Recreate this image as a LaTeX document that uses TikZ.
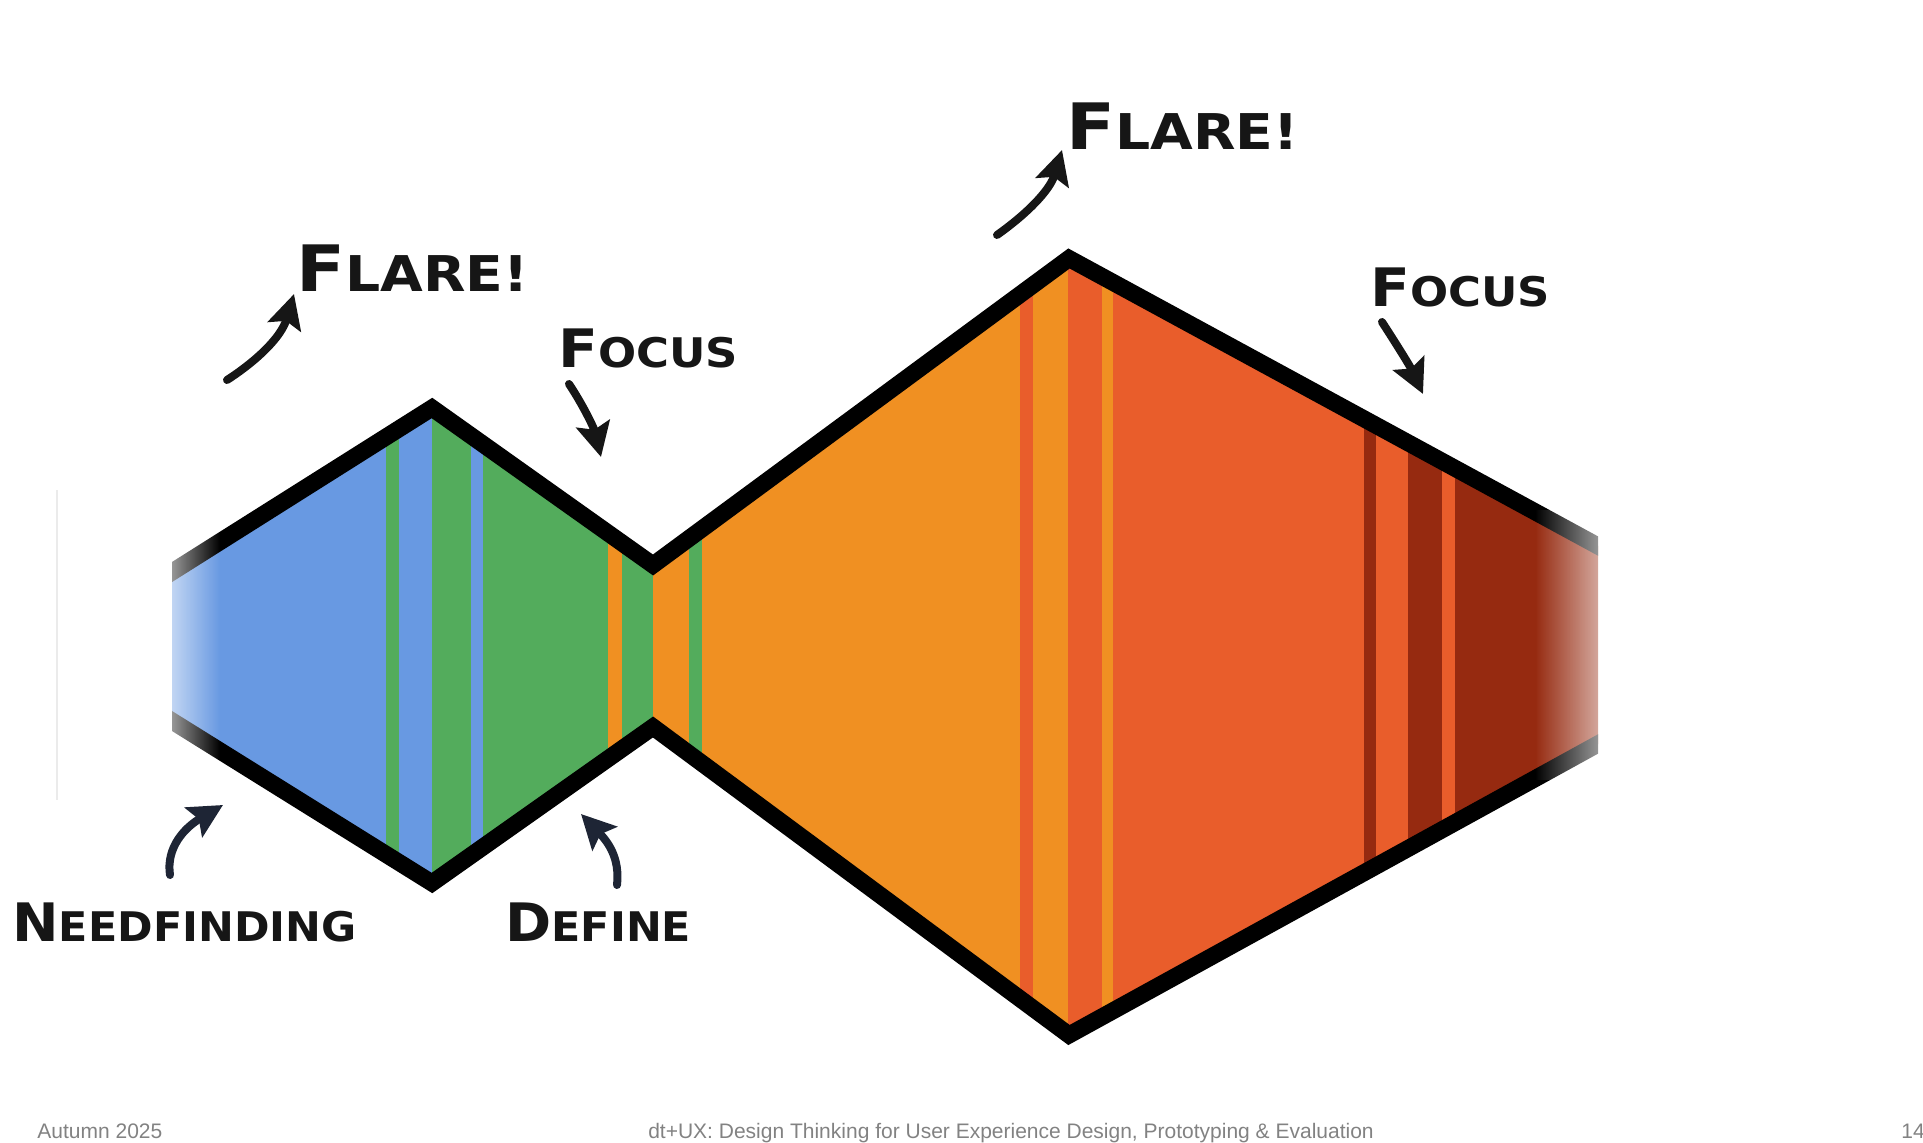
\documentclass[tikz,border=0pt]{standalone}
\usepackage{graphicx}
\usepackage{fontspec}
\usepackage{xcolor}
\usepackage{tikz}
\usetikzlibrary{arrows.meta,fadings}

\newfontfamily\markerfont{DejaVu Sans}
\newfontfamily\footerfont{Liberation Sans}

\definecolor{phaseblue}{RGB}{104,153,226}
\definecolor{phasegreen}{RGB}{83,172,92}
\definecolor{phaseorange}{RGB}{240,144,34}
\definecolor{phasered}{RGB}{233,93,43}
\definecolor{phasedark}{RGB}{150,42,16}
\definecolor{inkblack}{RGB}{22,22,22}
\definecolor{navyink}{RGB}{30,37,53}
\definecolor{footgray}{RGB}{130,130,130}

\tikzfading[name=fadeoutright, left color=transparent!0, right color=transparent!100]
\tikzfading[name=fadeoutleft, left color=transparent!100, right color=transparent!0]

\newcommand{\sketchword}[3][1.12]{\scalebox{#1}[1]{#2\scalebox{0.77}{#3}}}

\begin{document}
\begin{tikzpicture}[x=0.5pt,y=0.5pt,yscale=-1,xscale=1,
    outline/.style={draw=black, line width=8.5pt, line join=miter, miter limit=10},
    hand label/.style={inner sep=0pt, anchor=base west, text=inkblack, font=\markerfont\bfseries\fontsize{26.5}{26.5}\selectfont},
    big label/.style={hand label, font=\markerfont\bfseries\fontsize{32}{32}\selectfont},
    ink arrow/.style={draw=inkblack, line width=4pt, line cap=round, -{Stealth[length=17pt,width=17pt,inset=3pt]}},
    navy arrow/.style={ink arrow, draw=navyink},
    footer/.style={inner sep=0pt, anchor=base west, text=footgray, font=\footerfont\fontsize{10.5}{12}\selectfont}]
\useasboundingbox (0,0) rectangle (1923,1143);

%Straight Lines: faint trace
\draw [black!8, line width=0.6pt] (57,490) -- (57,800) ;

% corners of the outline
\coordinate (lt) at (172,572);
\coordinate (pk1) at (432,408);
\coordinate (pinchT) at (653,565);
\coordinate (pk2) at (1069,258.5);
\coordinate (rt) at (1598,546);
\coordinate (rb) at (1598,744);
\coordinate (vl2) at (1069,1035);
\coordinate (pinchB) at (653,727);
\coordinate (vl1) at (432,883);
\coordinate (lb) at (172,721);

%Shape: Polygon with stripes
\begin{scope}
\clip (lt) -- (pk1) -- (pinchT) -- (pk2) -- (rt) -- (rb) -- (vl2) -- (pinchB) -- (vl1) -- (lb) -- cycle;
\foreach \xa/\xb/\col in {160/386/phaseblue, 386/399/phasegreen, 399/432/phaseblue,
    432/471/phasegreen, 471/483/phaseblue, 483/608/phasegreen, 608/621.5/phaseorange,
    621.5/652.7/phasegreen, 652.7/689/phaseorange, 689/702/phasegreen, 702/1020/phaseorange,
    1020/1033/phasered, 1033/1068/phaseorange, 1068/1101.7/phasered, 1101.7/1113/phaseorange,
    1113/1364/phasered, 1364/1376/phasedark, 1376/1408/phasered, 1408/1442/phasedark,
    1442/1455/phasered, 1455/1610/phasedark}
  \fill [\col] (\xa,200) rectangle (\xb+0.6,1100) ;
\end{scope}

%Straight Lines: outline
\begin{scope}
\clip (172,0) rectangle (1598,1143);
\draw [outline] (150,585.9) -- (pk1) -- (pinchT) -- (pk2) -- (1620,558) ;
\draw [outline] (150,707.3) -- (vl1) -- (pinchB) -- (vl2) -- (1620,731.9) ;
\end{scope}

% soft ends
\fill [white, fill opacity=0.8, path fading=fadeoutright] (155,530) rectangle (220,770) ;
\fill [white, fill opacity=0.78, path fading=fadeoutleft] (1535,510) rectangle (1619,780) ;

%Text
\node [big label] (flareL) at (296,292) {\sketchword{F}{LARE!}};
\node [big label] (flareR) at (1066,150) {\sketchword{F}{LARE!}};
\node [hand label] (focusL) at (558,368) {\sketchword[1.1]{F}{OCUS}};
\node [hand label] (focusR) at (1370,307) {\sketchword[1.1]{F}{OCUS}};
\node [hand label] (needfind) at (12,942) {\sketchword[1.05]{N}{EEDFINDING}};
\node [hand label] (define) at (505,942) {\sketchword[1.05]{D}{EFINE}};

% arrow ends
\coordinate (flareLtail) at (227,380);
\coordinate (flareLtip) at (294,294);
\coordinate (flareRtail) at (997,235);
\coordinate (flareRtip) at (1062,150);
\coordinate (focusLtail) at (569,384);
\coordinate (focusLtip) at (601,457);
\coordinate (focusRtail) at (1382,322);
\coordinate (focusRtip) at (1423,394);
\coordinate (needtail) at (170,875);
\coordinate (needtip) at (223,805);
\coordinate (deftail) at (617,885);
\coordinate (deftip) at (581,814);

%Curve Lines
\draw [ink arrow] (flareLtail) .. controls (255,362) and (281,338) .. (flareLtip) ;
\draw [ink arrow] (flareRtail) .. controls (1028,213) and (1050,190) .. (flareRtip) ;
\draw [ink arrow] (focusLtail) .. controls (583,405) and (594,428) .. (focusLtip) ;
\draw [ink arrow] (focusRtail) .. controls (1395,342) and (1410,366) .. (focusRtip) ;
\draw [navy arrow] (needtail) .. controls (166,848) and (184,828) .. (needtip) ;
\draw [navy arrow] (deftail) .. controls (620,858) and (608,842) .. (deftip) ;

%Text: footer
\node [footer] (season) at (37,1138) {Autumn 2025};
\node [footer, anchor=base] (course) at (1011,1138) {dt+UX: Design Thinking for User Experience Design, Prototyping \& Evaluation};
\node [footer] (pagenum) at (1901,1138) {14};
\end{tikzpicture}
\end{document}
